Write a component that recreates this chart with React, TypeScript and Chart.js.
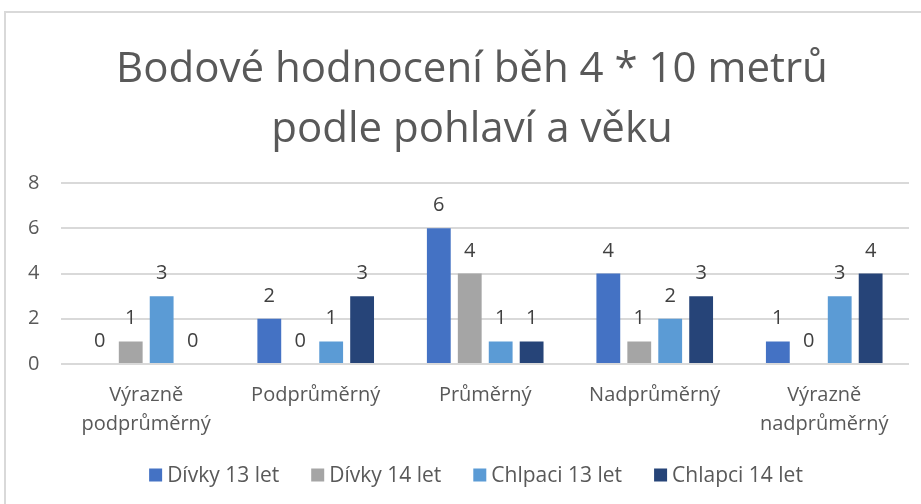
import React, { useEffect, useRef } from "react";
import { Chart, registerables } from "chart.js";

Chart.register(...registerables);

const categories: (string | string[])[] = [
  ["Výrazně", "podprůměrný"],
  "Podprůměrný",
  "Průměrný",
  "Nadprůměrný",
  ["Výrazně", "nadprůměrný"],
];
const divky13 = [0, 2, 6, 4, 1];
const divky14 = [1, 0, 4, 1, 0];
const chlapci13 = [3, 1, 1, 2, 3];
const chlapci14 = [0, 3, 1, 3, 4];
const seriesNames = ["Dívky 13 let", "Dívky 14 let", "Chlpaci 13 let", "Chlapci 14 let"];
const seriesColors = ["#4472C4", "#A5A5A5", "#5B9BD5", "#264478"];
const titleLines = ["Bodové hodnocení běh 4 * 10 metrů", "podle pohlaví a věku"];

const FONT = "'Open Sans', 'Noto Sans', sans-serif";

const valueLabels = {
  id: "valueLabels",
  afterDatasetsDraw(chart: any) {
    const ctx = chart.ctx;
    ctx.save();
    ctx.font = `20px ${FONT}`;
    ctx.fillStyle = "#404040";
    ctx.textAlign = "center";
    ctx.textBaseline = "alphabetic";
    chart.data.datasets.forEach((ds: any, i: number) => {
      const meta = chart.getDatasetMeta(i);
      meta.data.forEach((bar: any, j: number) => {
        ctx.fillText(String(ds.data[j]), bar.x, bar.y - 17);
      });
    });
    ctx.restore();
  },
};

const titleAndLegend = {
  id: "titleAndLegend",
  afterDraw(chart: any) {
    const ctx = chart.ctx;
    ctx.save();
    // title
    ctx.font = `42px ${FONT}`;
    ctx.fillStyle = "#595959";
    ctx.textAlign = "center";
    ctx.textBaseline = "middle";
    titleLines.forEach((line, i) => ctx.fillText(line, 472, 70 + i * 60));
    // legend
    ctx.font = `21px ${FONT}`;
    const box = 13;
    const gapText = 5;
    const gapItem = 32;
    const widths = chart.data.datasets.map((ds: any) => box + gapText + ctx.measureText(ds.label).width);
    const total = widths.reduce((a: number, b: number) => a + b, 0) + gapItem * (widths.length - 1);
    let x = 476 - total / 2;
    const y = 475;
    ctx.textAlign = "left";
    chart.data.datasets.forEach((ds: any, i: number) => {
      ctx.fillStyle = ds.backgroundColor;
      ctx.fillRect(x, y - box / 2, box, box);
      ctx.fillStyle = "#595959";
      ctx.fillText(ds.label, x + box + gapText, y + 1);
      x += widths[i] + gapItem;
    });
    ctx.restore();
  },
};

export default function App() {
  const ref = useRef<HTMLCanvasElement>(null);
  useEffect(() => {
    document.body.style.margin = "0";
    const data = [divky13, divky14, chlapci13, chlapci14];
    const chart = new Chart(ref.current!, {
      type: "bar",
      data: {
        labels: categories,
        datasets: data.map((d, i) => ({
          label: seriesNames[i],
          data: d,
          backgroundColor: seriesColors[i],
          categoryPercentage: 0.73,
          barPercentage: 0.77,
        })),
      },
      plugins: [valueLabels, titleAndLegend],
      options: {
        responsive: false,
        animation: false,
        layout: { padding: { left: 6, right: 12, top: 183, bottom: 56 } },
        plugins: {
          title: { display: false },
          legend: { display: false },
          tooltip: { enabled: false },
        },
        scales: {
          x: {
            grid: { display: false },
            border: { display: false },
            ticks: {
              color: "#595959",
              font: { family: FONT, size: 20, lineHeight: 1.45 },
              maxRotation: 0,
              padding: 9,
            },
          },
          y: {
            min: 0,
            max: 8,
            ticks: { stepSize: 2, color: "#595959", font: { family: FONT, size: 20 }, padding: 22 },
            grid: { color: "#d9d9d9", lineWidth: 2, drawTicks: false },
            border: { display: false },
          },
        },
      },
    });
    return () => chart.destroy();
  }, []);
  return (
    <div style={{ position: "relative", width: 921, height: 504, overflow: "hidden", background: "#fff" }}>
      <div style={{ position: "absolute", left: 4, top: 11, width: 1000, height: 600, border: "2px solid #d9d9d9", boxSizing: "border-box" }} />
      <canvas ref={ref} width={921} height={504} style={{ position: "absolute", left: 0, top: 0 }} />
    </div>
  );
}
